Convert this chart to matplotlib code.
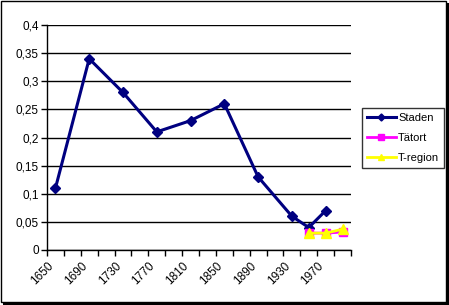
import matplotlib
matplotlib.use("Agg")
import matplotlib.pyplot as plt
import matplotlib.transforms as mtransforms
from matplotlib.patches import Rectangle
from matplotlib.ticker import FuncFormatter

staden_years = [1650, 1690, 1730, 1770, 1810, 1850, 1890, 1930, 1950, 1970]
staden = [0.11, 0.34, 0.28, 0.21, 0.23, 0.26, 0.13, 0.06, 0.04, 0.07]
tatort_years = [1950, 1970, 1990]
tatort = [0.03, 0.03, 0.032]
tregion_years = [1950, 1970, 1990]
tregion = [0.03, 0.03, 0.037]
label_years = [1650, 1690, 1730, 1770, 1810, 1850, 1890, 1930, 1970]

plt.rcParams['font.family'] = ['Liberation Sans', 'DejaVu Sans']
plt.rcParams['font.size'] = 8.5

W, H = 449, 305
fig = plt.figure(figsize=(W / 100, H / 100), dpi=100)
# plot area in pixels: x 47..351, y 25..250
ax = fig.add_axes([47 / W, 1 - 250 / H, (351 - 47) / W, (250 - 25) / H])

ax.plot(staden_years, staden, color='#000080', lw=2.2, marker='D', ms=5.5, label='Staden', zorder=3)
ax.plot(tatort_years, tatort, color='#FF00FF', lw=2, marker='s', ms=6, label='Tätort', zorder=4)
ax.plot(tregion_years, tregion, color='#FFFF00', lw=2, marker='^', ms=7, label='T-region', zorder=5)

ax.set_xlim(1640, 2000)
ax.set_ylim(0, 0.4)
ax.set_yticks([i * 0.05 for i in range(9)])
ax.yaxis.set_major_formatter(FuncFormatter(lambda v, p: ('%g' % round(v, 2)).replace('.', ',')))
ax.grid(axis='y', color='black', lw=1)
ax.set_axisbelow(True)

ax.set_xticks(list(range(1640, 2001, 20)), minor=True)
ax.set_xticks(label_years)
ax.set_xticklabels([str(y) for y in label_years], rotation=45, ha='right', rotation_mode='anchor')
ax.tick_params(axis='x', which='major', length=0, pad=7)
ax.tick_params(axis='x', which='minor', length=4, width=1, direction='out')
ax.tick_params(axis='y', length=4, width=1, direction='out', pad=2)
off = mtransforms.ScaledTranslation(-8 / 100, 0, fig.dpi_scale_trans)
for lab in ax.get_xticklabels():
    lab.set_transform(lab.get_transform() + off)

for s in ['top', 'right']:
    ax.spines[s].set_visible(False)
for s in ['left', 'bottom']:
    ax.spines[s].set_color('black')
    ax.spines[s].set_linewidth(1)

leg = fig.legend(loc='upper left', bbox_to_anchor=(362 / W, 1 - 108 / H), fontsize=8,
                 frameon=True, fancybox=False, edgecolor='black', handlelength=2.6,
                 markerscale=0.65, borderpad=0.45, labelspacing=0.9, handletextpad=0.2,
                 borderaxespad=0)
leg.get_frame().set_linewidth(1)

# outer chart border with shadow
fig.patches.append(Rectangle((0.5 / W, 3 / H), (W - 4) / W, (H - 3.5) / H, transform=fig.transFigure,
                             fill=False, edgecolor='black', lw=1))
fig.patches.append(Rectangle(((W - 3.5) / W, 0), 3.5 / W, (H - 3) / H, transform=fig.transFigure,
                             color='black', lw=0))
fig.patches.append(Rectangle((3 / W, 0), (W - 3) / W, 3 / H, transform=fig.transFigure,
                             color='black', lw=0))

fig.savefig('out.png', dpi=100)
